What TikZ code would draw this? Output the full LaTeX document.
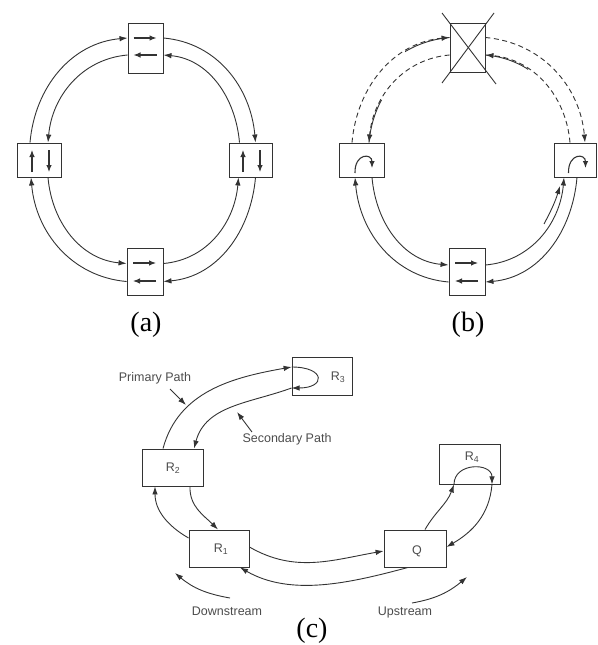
\documentclass[tikz,border=0pt]{standalone}
\usepackage{fontspec}
\setmainfont{Liberation Serif}
\newfontfamily\labfont{Liberation Sans}
\usetikzlibrary{arrows.meta,calc}
\begin{document}
\begin{tikzpicture}[x=1pt,y=-1pt,
  box/.style={draw=black!80,line width=0.9pt,inner sep=0pt},
  ln/.style={draw=black!80,line width=0.9pt},
  arr/.style={ln,-{Latex[length=8pt,width=5.5pt]}},
  sarr/.style={ln,line width=1.1pt,-{Latex[length=7pt,width=5.5pt]}},
  dsh/.style={dash pattern=on 5pt off 3.5pt},
  lbl/.style={font=\fontsize{28}{30}\selectfont,inner sep=0pt},
  sml/.style={font=\labfont\fontsize{12.5}{14}\selectfont,text=black!70,inner sep=0pt},
]
\useasboundingbox (0,0) rectangle (597,645);

% ---------------- panel (a)
\node[box,minimum width=35pt,minimum height=50pt] (aT) at (145.5,48) {};
\node[box,minimum width=44pt,minimum height=34pt] (aL) at (39,160) {};
\node[box,minimum width=43pt,minimum height=34pt] (aR) at (250.5,160) {};
\node[box,minimum width=36pt,minimum height=47pt] (aB) at (145,271.5) {};

\draw[sarr] ($(aT)+(-12,-10)$) -- ($(aT)+(11,-10)$);
\draw[sarr] ($(aT)+(11,7)$) -- ($(aT)+(-12,7)$);
\draw[sarr] ($(aB)+(-12,-8.5)$) -- ($(aB)+(11,-8.5)$);
\draw[sarr] ($(aB)+(11,9.5)$) -- ($(aB)+(-12,9.5)$);
\draw[sarr] ($(aL)+(-7,12)$) -- ($(aL)+(-7,-10)$);
\draw[sarr] ($(aL)+(10,-10)$) -- ($(aL)+(10,12)$);
\draw[sarr] ($(aR)+(-7.5,12)$) -- ($(aR)+(-7.5,-10)$);
\draw[sarr] ($(aR)+(9.5,-10)$) -- ($(aR)+(9.5,12)$);

\draw[arr] ([xshift=-9pt]aL.north) to[out=85,in=185] ([yshift=10pt]aT.west);
\draw[arr] ([yshift=-7pt]aT.west) to[out=185,in=85] ([xshift=9pt]aL.north);
\draw[arr] ([yshift=10pt]aT.east) to[out=-5,in=95] ([xshift=5pt]aR.north);
\draw[arr] ([xshift=-11pt]aR.north) to[out=95,in=-5] ([yshift=-7pt]aT.east);
\draw[arr] ([xshift=5pt]aR.south) to[out=265,in=5] ([yshift=-10pt]aB.east);
\draw[arr] ([yshift=8pt]aB.east) to[out=5,in=265] ([xshift=-12pt]aR.south);
\draw[arr] ([yshift=-10pt]aB.west) to[out=175,in=275] ([xshift=-8pt]aL.south);
\draw[arr] ([xshift=9pt]aL.south) to[out=275,in=175] ([yshift=8pt]aB.west);

\node[lbl] (la) at (146,325) {(a)};

% ---------------- panel (b)
\node[box,minimum width=35pt,minimum height=49pt] (bT) at (467.5,47.5) {};
\node[box,minimum width=45pt,minimum height=34pt] (bL) at (361.5,160) {};
\node[box,minimum width=42pt,minimum height=34pt] (bR) at (575,160) {};
\node[box,minimum width=36pt,minimum height=47pt] (bB) at (467,271.5) {};

\draw[ln] (442,13) -- (496,84);
\draw[ln] (494,13) -- (442,83);

\draw[sarr] ($(bB)+(-12,-8.5)$) -- ($(bB)+(11,-8.5)$);
\draw[sarr] ($(bB)+(11,9.5)$) -- ($(bB)+(-12,9.5)$);
\draw[sarr] ($(bL)+(-6.5,13)$) .. controls ($(bL)+(-7,-7)$) and ($(bL)+(10.5,-7)$) .. ($(bL)+(10.5,8)$);
\draw[sarr] ($(bR)+(-6.5,13)$) .. controls ($(bR)+(-7,-7)$) and ($(bR)+(10.5,-7)$) .. ($(bR)+(10.5,8)$);

\draw[arr,dsh] ([xshift=-9.5pt]bL.north) to[out=85,in=185] ([yshift=10pt]bT.west);
\draw[arr,dsh] ([yshift=-7.5pt]bT.west) to[out=185,in=85] ([xshift=7.5pt]bL.north);
\draw[arr,dsh] ([yshift=10pt]bT.east) to[out=-5,in=95] ([xshift=10pt]bR.north);
\draw[arr,dsh] ([xshift=-5pt]bR.north) to[out=95,in=-5] ([yshift=-7.5pt]bT.east);
% solid stretches of the dashed arcs
\begin{scope}
  \clip (405,20) rectangle (450,60);
  \draw[ln] ([xshift=-9.5pt]bL.north) to[out=85,in=185] ([yshift=10pt]bT.west);
\end{scope}
\begin{scope}
  \clip (355,100) rectangle (395,143);
  \draw[ln] ([yshift=-7.5pt]bT.west) to[out=185,in=85] ([xshift=7.5pt]bL.north);
\end{scope}
\begin{scope}
  \clip (485,40) rectangle (528,80);
  \draw[ln] ([xshift=-5pt]bR.north) to[out=95,in=-5] ([yshift=-7.5pt]bT.east);
\end{scope}
\draw[arr] ([yshift=-10.5pt]bB.west) to[out=175,in=275] ([xshift=-6.5pt]bL.south);
\draw[arr] ([xshift=10.5pt]bL.south) to[out=275,in=175] ([yshift=6.5pt]bB.west);
\draw[arr] ([xshift=2pt]bR.south) to[out=265,in=5] ([yshift=-10.5pt]bB.east);
\draw[arr] ([yshift=6.5pt]bB.east) to[out=5,in=265] ([xshift=-11pt]bR.south);
\coordinate (xs) at (544,224);
\coordinate (xe) at (560,186);
\draw[arr] (xs) to[out=62,in=253] (xe);

\node[lbl] (lb) at (468,325) {(b)};

% ---------------- panel (c)
\node[box,minimum width=60pt,minimum height=38pt] (R3) at (322,376) {};
\node[box,minimum width=61pt,minimum height=37pt] (R2) at (172.5,467.5) {};
\node[box,minimum width=60pt,minimum height=37pt] (R1) at (219,548.5) {};
\node[box,minimum width=62pt,minimum height=37pt] (Q) at (415,548.5) {};
\node[box,minimum width=61pt,minimum height=40pt] (R4) at (469.5,464) {};

\node[sml] (t3) at (338,377) {R\textsubscript{3}};
\node[sml] (t2) at (173,468) {R\textsubscript{2}};
\node[sml] (t1) at (221,549) {R\textsubscript{1}};
\node[sml] (tq) at (417,551) {Q};
\node[sml] (t4) at (472,457) {R\textsubscript{4}};

\draw[arr] ([xshift=-9.5pt]R2.north) to[out=75,in=190] ([yshift=9pt]R3.west);
\draw[arr] ([yshift=-12pt]R3.west) to[out=200,in=75] ([xshift=21.5pt]R2.north);
\draw[arr] ([yshift=9pt]R3.west) to[out=0,in=0,looseness=4.2] ([yshift=-12pt]R3.west);
\draw[arr] ([xshift=17.5pt]R2.south) to[out=268,in=135] ([xshift=-1pt]R1.north);
\draw[arr] ([yshift=10.5pt]R1.west) to[out=150,in=270] ([xshift=-17.5pt]R2.south);
\draw[arr] ([yshift=1.5pt]R1.east) to[out=-30,in=190] ([yshift=-2.5pt]Q.west);
\draw[arr] ([xshift=-7pt]Q.south) to[out=195,in=-30,looseness=0.9] ([xshift=21pt]R1.south);
\draw[arr] ([xshift=10pt]Q.north) to[out=60,in=250] ([xshift=-15.5pt]R4.south);
\draw[arr] ([xshift=-15.5pt]R4.south) to[out=90,in=90,looseness=1.5] ([xshift=22.5pt]R4.south);
\draw[arr] ([xshift=22.5pt]R4.south) to[out=265,in=30] ([yshift=1.5pt]Q.east);

\node[sml] (pp) at (155,378) {Primary Path};
\node[sml] (sp) at (287,439) {Secondary Path};
\node[sml] (ds) at (227,611) {Downstream};
\node[sml] (us) at (405,612) {Upstream};

\coordinate (pp1) at (170,389); \coordinate (pp2) at (186,405);
\coordinate (sp1) at (252,432); \coordinate (sp2) at (237,412);
\coordinate (ds1) at (230,598); \coordinate (ds2) at (175,573);
\coordinate (us1) at (412,603); \coordinate (us2) at (467,577);
\draw[arr] (pp1) -- (pp2);
\draw[arr] (sp1) -- (sp2);
\draw[arr] (ds1) to[out=170,in=-40] (ds2);
\draw[arr] (us1) to[out=10,in=220] (us2);

\node[lbl] (lc) at (312,631) {(c)};
\end{tikzpicture}
\end{document}
